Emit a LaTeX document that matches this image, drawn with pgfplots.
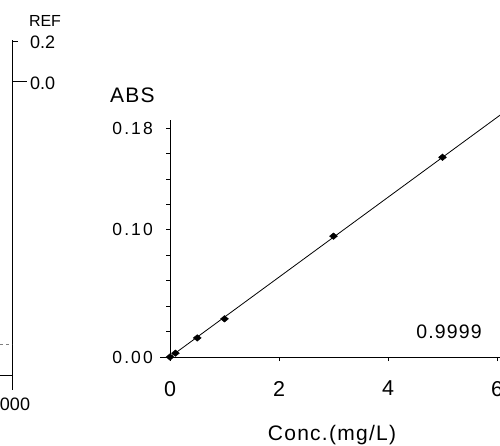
\documentclass[border=0pt]{standalone}
\usepackage{fontspec}
\setmainfont{Liberation Sans}
\newfontfamily\jfont[LetterSpace=6]{Liberation Sans}
\newfontfamily\yfont[LetterSpace=12]{Liberation Sans}
\usepackage{pgfplots}
\pgfplotsset{compat=1.18}
\begin{document}
\begin{tikzpicture}
\useasboundingbox (0,0) rectangle (500pt,445pt);
\clip (0,0) rectangle (500pt,445pt);
% right edge of the REF panel (cut off on the left)
\begin{axis}[
  at={(12.5pt,70pt)}, anchor=south east,
  scale only axis, width=300pt, height=335pt,
  xmin=1000, xmax=2000, ymin=-1.465, ymax=0.21,
  axis x line*=bottom, axis y line*=right,
  axis line style={-, line width=1pt},
  xtick=\empty, ytick=\empty, clip=false,
]
\addplot[gray, dashed, line width=0.8pt] coordinates {(1960,-1.31) (2000,-1.31)};
\draw[line width=1pt] (axis cs:2000,0.2) -- ++(6pt,0pt);
\draw[line width=1pt] (axis cs:2000,0) -- ++(14pt,0pt);
\draw[line width=1pt] (axis cs:2000,-1.465) -- ++(0pt,-15pt);
\end{axis}
\node[font=\fontsize{16}{17}\selectfont, inner sep=0pt] at (45pt,424pt) {REF};
\node[font=\fontsize{18}{19}\selectfont, inner sep=0pt, anchor=west] at (30pt,403pt) {0.2};
\node[font=\fontsize{18}{19}\selectfont, inner sep=0pt, anchor=west] at (30pt,362pt) {0.0};
\node[font=\fontsize{18}{19}\selectfont, inner sep=0pt, anchor=north] at (10pt,47pt) {2000};
% calibration curve
\begin{axis}[
  at={(170pt,88pt)}, anchor=south west,
  scale only axis, width=332.45pt, height=236.6pt,
  xmin=0, xmax=6.1, ymin=0, ymax=0.186,
  axis lines=left, axis line style={-, line width=0.8pt},
  clip=false,
  tick align=outside, major tick length=4pt,
  tick style={black, line width=0.8pt},
  xtick={0,2,4,6}, xticklabels={0,2,4,6},
  ytick={0,0.02,0.04,0.06,0.08,0.10,0.12,0.14,0.16,0.18},
  yticklabels={0.00,,,,,0.10,,,,0.18},
  xticklabel style={font=\jfont\fontsize{21.5}{22}\selectfont, inner sep=0pt, anchor=north, yshift=-20pt},
  yticklabel style={font=\yfont\fontsize{17.5}{18}\selectfont, inner sep=0pt, anchor=east, xshift=-13pt},
]
\addplot[black, line width=0.8pt, no marks] coordinates {(0,0) (6.1,0.1915)};
\addplot[black, only marks, mark=diamond*, mark size=3.3pt, mark options={xscale=1.6}]
  coordinates {(0,0) (0.1,0.003) (0.5,0.015) (1,0.030) (3,0.095) (5,0.157)};
\draw[line width=0.8pt] (axis cs:0,0) -- ++(-10pt,0pt);
\end{axis}
\node[font=\jfont\fontsize{21}{22}\selectfont, inner sep=0pt, anchor=west] at (110pt,350pt) {ABS};
\node[font=\jfont\fontsize{19.5}{20}\selectfont, inner sep=0pt] at (449pt,113pt) {0.9999};
\node[font=\jfont\fontsize{21}{22}\selectfont, inner sep=0pt, anchor=base] at (332pt,5pt) {Conc.(mg/L)};
\end{tikzpicture}
\end{document}
